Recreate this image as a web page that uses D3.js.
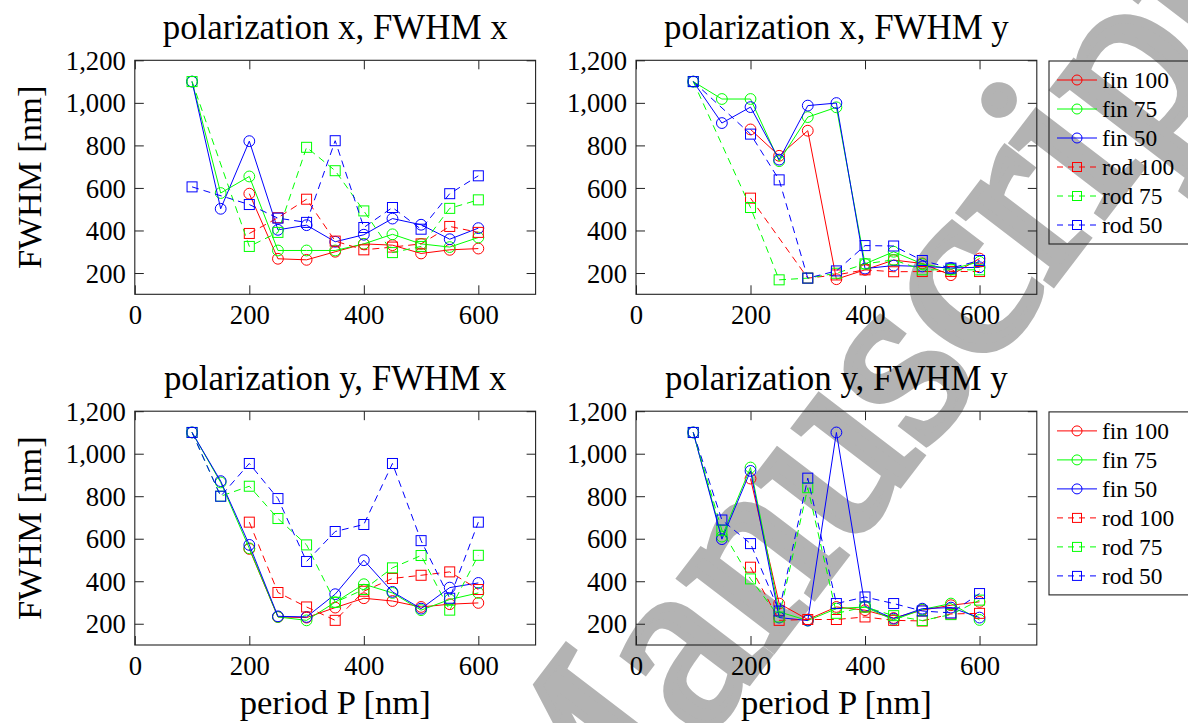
<!DOCTYPE html>
<html><head><meta charset="utf-8">
<script src="https://cdn.jsdelivr.net/npm/d3@7"></script>
<style>
html,body{margin:0;padding:0;background:#fff;}
svg{display:block;}
</style></head>
<body><svg id="chart" width="1188" height="723"></svg>
<script>
// ---------- data ----------
const periods = [100,150,200,250,300,350,400,450,500,550,600];
const seriesNames = ["fin 100","fin 75","fin 50","rod 100","rod 75","rod 50"];
const seriesColors = ["#ff0000","#00ff00","#0000ff","#ff0000","#00ff00","#0000ff"];
const seriesDashed = [false,false,false,true,true,true];
const seriesMarker = ["circle","circle","circle","square","square","square"];
const panelTitles = ["polarization x, FWHM x","polarization x, FWHM y","polarization y, FWHM x","polarization y, FWHM y"];
const xTicks = [0,200,400,600];
const yTicks = [200,400,600,800,1000,1200];
const xLabel = "period P [nm]";
const yLabel = "FWHM [nm]";
const watermarkText = "Manuscript";

// panel: polarization x, FWHM x
const pxfx_fin100 = [null,null,573,267,262,300,337,331,292,309,315];
const pxfx_fin75  = [1100,576,654,306,306,306,337,382,337,322,367];
const pxfx_fin50  = [1100,502,820,403,425,347,380,456,427,359,411];
const pxfx_rod100 = [null,null,386,460,547,350,309,322,337,419,391];
const pxfx_rod75  = [1100,null,325,391,791,681,492,296,325,504,544];
const pxfx_rod50  = [605,null,522,458,438,822,414,508,406,573,657];
// panel: polarization x, FWHM y
const pxfy_fin100 = [null,null,875,751,869,171,215,261,245,190,268];
const pxfy_fin75  = [1100,1018,1018,726,933,979,243,300,243,218,253];
const pxfy_fin50  = [1100,905,980,733,987,999,221,235,231,224,227];
const pxfy_rod100 = [null,null,552,null,176,191,215,206,207,207,207];
const pxfy_rod75  = [1100,null,508,168,176,199,243,262,215,215,215];
const pxfy_rod50  = [1100,null,853,638,176,210,329,327,259,223,259];
// panel: polarization y, FWHM x
const pyfx_fin100 = [null,null,552,232,229,276,320,307,279,292,298];
const pyfx_fin75  = [1100,865,555,232,216,301,386,345,264,314,345];
const pyfx_fin50  = [1100,871,571,235,232,339,499,350,271,370,392];
const pyfx_rod100 = [null,null,678,347,279,216,353,413,428,444,361];
const pyfx_rod75  = [1100,800,847,695,571,301,361,463,521,264,522];
const pyfx_rod50  = [1100,800,954,789,493,634,667,954,591,320,678];
// panel: polarization y, FWHM y
const pyfy_fin100 = [null,null,883,295,220,279,264,227,264,287,303];
const pyfy_fin75  = [1100,610,935,256,215,271,279,218,267,295,218];
const pyfy_fin50  = [1100,598,919,229,215,1100,283,224,271,276,229];
const pyfy_rod100 = [null,null,466,216,220,220,232,216,213,246,249];
const pyfy_rod75  = [1100,640,411,232,840,249,279,238,215,243,311];
const pyfy_rod50  = [1100,688,577,260,885,295,326,295,260,251,342];

const panelData = [
  [pxfx_fin100,pxfx_fin75,pxfx_fin50,pxfx_rod100,pxfx_rod75,pxfx_rod50],
  [pxfy_fin100,pxfy_fin75,pxfy_fin50,pxfy_rod100,pxfy_rod75,pxfy_rod50],
  [pyfx_fin100,pyfx_fin75,pyfx_fin50,pyfx_rod100,pyfx_rod75,pyfx_rod50],
  [pyfy_fin100,pyfy_fin75,pyfy_fin50,pyfy_rod100,pyfy_rod75,pyfy_rod50]
];

// ---------- layout ----------
const FONT = "Liberation Serif";
const svg = d3.select("#chart");
const layout = [
  {left:134.8, top:60.3, bottom:294.3, yLab:true,  xLab:false, legend:false},
  {left:636.0, top:60.3, bottom:294.3, yLab:false, xLab:false, legend:true},
  {left:134.8, top:411.2, bottom:645.0, yLab:true,  xLab:true,  legend:false},
  {left:636.0, top:411.2, bottom:645.0, yLab:false, xLab:true,  legend:true}
];
const plotW = 400.8;

function fitSize(sample, target){
  const t = svg.append("text").attr("font-family",FONT).attr("font-size",100).text(sample);
  const w = t.node().getComputedTextLength();
  t.remove();
  return 100*target/w;
}
const titleSize = fitSize("polarization x, FWHM x", 345);
const tickSize = fitSize("1,200", 60);
const legendSize = fitSize("fin 100", 67);
const labelSize = fitSize("period P [nm]", 191);

// watermark (behind everything)
const wm = svg.append("text").attr("font-family",FONT).attr("font-size",100)
  .attr("fill","#b3b3b3").attr("stroke","#b3b3b3").text(watermarkText);
(function placeWatermark(){
  const n = wm.node();
  const ea = n.getExtentOfChar(1), ei = n.getExtentOfChar(7);
  const A = [ea.x+ea.width/2, -23];
  const I = [ei.x+ei.width/2, -62];
  const At = [690,662], It = [998,97];
  const vt = [I[0]-A[0], I[1]-A[1]], vT = [It[0]-At[0], It[1]-At[1]];
  const s = Math.hypot(vT[0],vT[1])/Math.hypot(vt[0],vt[1]);
  const ang = Math.atan2(vT[1],vT[0]) - Math.atan2(vt[1],vt[0]);
  const c = Math.cos(ang), sn = Math.sin(ang);
  const tx = At[0] - s*(A[0]*c - A[1]*sn);
  const ty = At[1] - s*(A[0]*sn + A[1]*c);
  wm.attr("transform",`translate(${tx},${ty}) rotate(${ang*180/Math.PI}) scale(${s})`)
    .attr("stroke-width",9/s);
})();

const dash = "7,5";
const tickLen = 9;

layout.forEach((L,pi)=>{
  const x = d3.scaleLinear().domain([0,700]).range([L.left, L.left+plotW]);
  const y = d3.scaleLinear().domain([100,1200]).range([L.bottom, L.top]);
  const g = svg.append("g");

  // title
  g.append("text").attr("x",(L.left+L.left+plotW)/2).attr("y",L.top-21)
    .attr("text-anchor","middle").attr("font-family",FONT).attr("font-size",titleSize).text(panelTitles[pi]);

  // axes with inward ticks
  const axB = d3.axisBottom(x).tickValues(xTicks).tickSize(-tickLen).tickPadding(0).tickFormat(d3.format("d"));
  const axT = d3.axisTop(x).tickValues(xTicks).tickSize(-tickLen).tickFormat("");
  const axL = d3.axisLeft(y).tickValues(yTicks).tickSize(-tickLen).tickFormat(d3.format(","));
  const axR = d3.axisRight(y).tickValues(yTicks).tickSize(-tickLen).tickFormat("");
  const gb = g.append("g").attr("transform",`translate(0,${L.bottom})`).call(axB);
  const gt = g.append("g").attr("transform",`translate(0,${L.top})`).call(axT);
  const gl = g.append("g").attr("transform",`translate(${L.left},0)`).call(axL);
  const gr = g.append("g").attr("transform",`translate(${L.left+plotW},0)`).call(axR);
  [gb,gt,gl,gr].forEach(a=>{a.select(".domain").remove(); a.attr("font-family",FONT); a.selectAll("line").attr("stroke","#222").attr("stroke-width",1);});
  gb.selectAll("text").attr("font-family",FONT).attr("font-size",tickSize).attr("fill","#000")
    .attr("dy",null).attr("y",30);
  gl.selectAll("text").attr("font-family",FONT).attr("font-size",tickSize).attr("fill","#000")
    .attr("x",-9).attr("dy","0.34em");

  // frame
  g.append("rect").attr("x",L.left).attr("y",L.top).attr("width",plotW).attr("height",L.bottom-L.top)
    .attr("fill","none").attr("stroke","#222").attr("stroke-width",1.1);

  if(L.yLab){
    g.append("text").attr("transform",`translate(41,${(L.top+L.bottom)/2}) rotate(-90)`)
      .attr("text-anchor","middle").attr("font-family",FONT).attr("font-size",labelSize).text(yLabel);
  }
  if(L.xLab){
    g.append("text").attr("x",(L.left+L.left+plotW)/2).attr("y",714)
      .attr("text-anchor","middle").attr("font-family",FONT).attr("font-size",labelSize).text(xLabel);
  }

  // series
  const line = d3.line().x(d=>x(d.p)).y(d=>y(d.v));
  panelData[pi].forEach((vals,si)=>{
    const pts = periods.map((p,i)=>({p:p,v:vals[i]})).filter(d=>d.v!==null);
    const col = seriesColors[si];
    g.append("path").datum(pts).attr("d",line).attr("fill","none")
      .attr("stroke",col).attr("stroke-width",1)
      .attr("stroke-dasharray",seriesDashed[si]?dash:null);
    if(seriesMarker[si]==="circle"){
      g.selectAll(null).data(pts).enter().append("circle")
        .attr("cx",d=>x(d.p)).attr("cy",d=>y(d.v)).attr("r",5.4)
        .attr("fill","none").attr("stroke",col).attr("stroke-width",1);
    } else {
      g.selectAll(null).data(pts).enter().append("rect")
        .attr("x",d=>x(d.p)-5).attr("y",d=>y(d.v)-5).attr("width",10).attr("height",10)
        .attr("fill","none").attr("stroke",col).attr("stroke-width",1);
    }
  });

  // legend
  if(L.legend){
    const lx = 1049, ly = L.top+0.7;
    const lg = svg.append("g");
    lg.append("rect").attr("x",lx).attr("y",ly).attr("width",160).attr("height",183)
      .attr("fill","none").attr("stroke","#222").attr("stroke-width",1.1);
    seriesNames.forEach((nm,si)=>{
      const cy = ly + 19 + si*29;
      const col = seriesColors[si];
      lg.append("line").attr("x1",lx+8).attr("x2",lx+48).attr("y1",cy).attr("y2",cy)
        .attr("stroke",col).attr("stroke-width",1).attr("stroke-dasharray",seriesDashed[si]?"6,5":null);
      if(seriesMarker[si]==="circle"){
        lg.append("circle").attr("cx",lx+28).attr("cy",cy).attr("r",5).attr("fill","none")
          .attr("stroke",col).attr("stroke-width",1);
      } else {
        lg.append("rect").attr("x",lx+23.5).attr("y",cy-4.5).attr("width",9).attr("height",9)
          .attr("fill","none").attr("stroke",col).attr("stroke-width",1);
      }
      lg.append("text").attr("x",lx+53).attr("y",cy+8).attr("font-family",FONT).attr("font-size",legendSize).text(nm);
    });
  }
});
</script></body></html>
